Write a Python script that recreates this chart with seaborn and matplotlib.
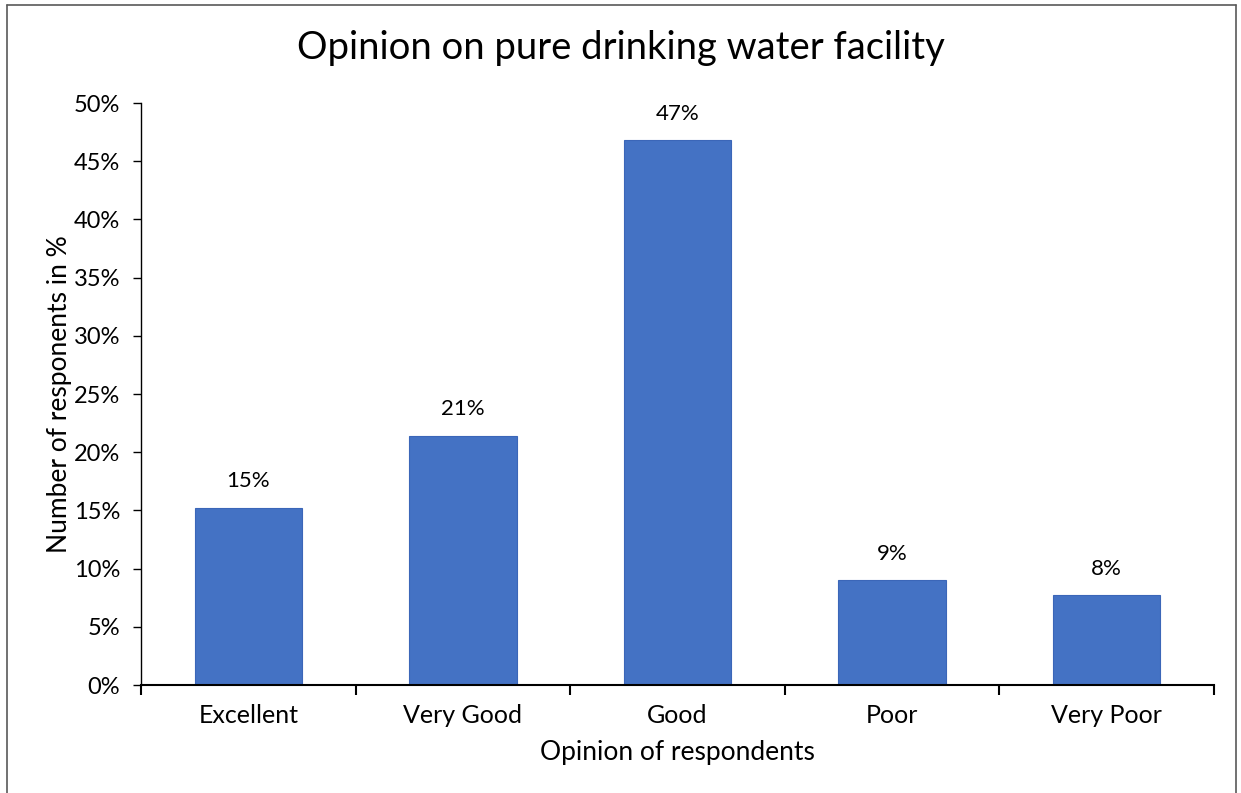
import matplotlib
matplotlib.use("Agg")
import matplotlib.pyplot as plt
from matplotlib.lines import Line2D
from matplotlib.ticker import FixedLocator, PercentFormatter
import pandas as pd
import seaborn as sns

categories = ["Excellent", "Very Good", "Good", "Poor", "Very Poor"]
percent_values = [15.2, 21.4, 46.8, 9.0, 7.7]
y_ticks = [0, 5, 10, 15, 20, 25, 30, 35, 40, 45, 50]

df = pd.DataFrame({"opinion": categories, "percent": percent_values})

sns.set_style("white")
plt.rcParams["font.family"] = ["Lato", "DejaVu Sans"]
plt.rcParams["text.color"] = "#000000"
plt.rcParams["axes.labelcolor"] = "#000000"
plt.rcParams["xtick.color"] = "#000000"
plt.rcParams["ytick.color"] = "#000000"

fig = plt.figure(figsize=(12.41, 7.93), dpi=100)
ax = fig.add_axes([141 / 1241, 1 - 685 / 793, 1073 / 1241, 582 / 793])

sns.barplot(data=df, x="opinion", y="percent", color="#4472C4", saturation=1,
            width=0.5, edgecolor="#3b66b8", linewidth=0.8, ax=ax)

ax.bar_label(ax.containers[0], fmt="%.0f%%", padding=12, fontsize=16, color="#000000")

ax.set_ylim(0, 50)
ax.set_xlim(-0.5, len(categories) - 0.5)
ax.set_yticks(y_ticks)
ax.yaxis.set_major_formatter(PercentFormatter(decimals=0))
ax.tick_params(axis="y", length=6, width=1, direction="out", labelsize=17, pad=9, left=True)
ax.tick_params(axis="x", which="major", length=0, labelsize=18, pad=14)
ax.xaxis.set_minor_locator(FixedLocator([i - 0.5 for i in range(len(categories) + 1)]))
ax.tick_params(axis="x", which="minor", length=7, width=1.5, direction="out", bottom=True)

for side in ["top", "right"]:
    ax.spines[side].set_visible(False)
ax.spines["left"].set_color("#000000")
ax.spines["left"].set_linewidth(1)
ax.spines["bottom"].set_color("#000000")
ax.spines["bottom"].set_linewidth(1.5)

ax.set_xlabel("Opinion of respondents", fontsize=19, labelpad=9)
ax.set_ylabel("Number of responents in %", fontsize=19, labelpad=1)
fig.text(0.5, 1 - 48 / 793, "Opinion on pure drinking water facility",
         ha="center", va="center", fontsize=27.5)

# outer frame of the chart area
fx0, fx1, fy1 = 7 / 1241, 1236 / 1241, 1 - 5 / 793
for xs, ys in [([fx0, fx0], [0, fy1]), ([fx0, fx1], [fy1, fy1]), ([fx1, fx1], [fy1, 0])]:
    fig.add_artist(Line2D(xs, ys, transform=fig.transFigure, color="#595959", linewidth=1.2))

fig.savefig("out.png", dpi=100)
